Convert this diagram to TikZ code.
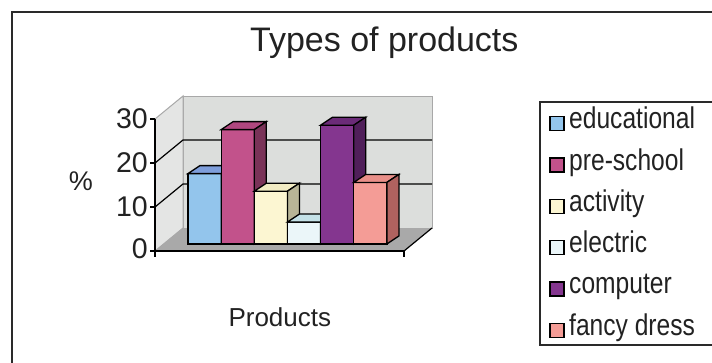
\documentclass[tikz,border=0pt]{standalone}
\usepackage{fontspec}
\setmainfont{Liberation Sans}
\newfontfamily\narrowfont{Liberation Sans}[FakeStretch=0.82]
\definecolor{eduF}{HTML}{93C5EC}
\definecolor{eduT}{HTML}{7E9EDB}
\definecolor{eduS}{HTML}{5C7FAE}
\definecolor{preF}{HTML}{C2528B}
\definecolor{preT}{HTML}{B0477F}
\definecolor{preS}{HTML}{7A3358}
\definecolor{actF}{HTML}{FCF6D2}
\definecolor{actT}{HTML}{F1EBC3}
\definecolor{actS}{HTML}{B8B597}
\definecolor{eleF}{HTML}{EBF6F9}
\definecolor{eleT}{HTML}{C4E1E7}
\definecolor{eleS}{HTML}{9FB6BA}
\definecolor{comF}{HTML}{84368F}
\definecolor{comT}{HTML}{6B2B78}
\definecolor{comS}{HTML}{501F5A}
\definecolor{fanF}{HTML}{F49C96}
\definecolor{fanT}{HTML}{E98F89}
\definecolor{fanS}{HTML}{B0625F}
\definecolor{wallB}{HTML}{DCDEDC}
\definecolor{wallL}{HTML}{E4E5E4}
\definecolor{floorC}{HTML}{A9A9A9}
\definecolor{edgeC}{HTML}{A8A8A8}
\definecolor{frameC}{HTML}{2A2A2A}
\definecolor{textC}{HTML}{222222}
\tikzset{
  barline/.style={draw=black, line width=1.3pt, line join=miter},
  gridline/.style={draw=black, line width=1.2pt},
  axisline/.style={draw=black, line width=1.2pt},
  wall/.style={draw=edgeC, line width=1pt},
  framel/.style={draw=frameC, line width=2.5pt},
  legl/.style={draw=frameC, line width=1.6pt},
  numlab/.style={anchor=east, inner sep=0pt, text=textC, font=\fontsize{28.5}{30}\selectfont},
  legtext/.style={anchor=base west, inner sep=0pt, text=textC, font=\narrowfont\fontsize{30}{32}\selectfont},
  legsq/.style={draw=black, line width=1.2pt},
}
\begin{document}
\begin{tikzpicture}[x=1pt,y=-1pt]
\useasboundingbox[fill=white] (0,0) rectangle (712,362);
% outer frame
\draw[framel] (12,372) -- (12,12) -- (722,12);
% title
\node[anchor=base, inner sep=0pt, text=textC, font=\fontsize{34}{36}\selectfont] (title) at (384.3,51.5) {Types of products};
% walls
\draw[wall, fill=wallB] (183,96) rectangle (432,228);
\draw[wall, fill=wallL] (155,251) -- (183,228) -- (183,96) -- (155,119) -- cycle;
% floor
\fill[floorC] (155,251) -- (404,251) -- (432,228) -- (183,228) -- cycle;
\draw[axisline] (404,251) -- (432,228);
% gridlines
\draw[gridline] (155,207) -- (183,184) -- (432,184);
\draw[gridline] (155,163) -- (183,140) -- (432,140);
% axes
\draw[axisline] (155,119) -- (155,257);
\draw[axisline] (155,251) -- (404,251) -- (404,257);
\foreach \yy in {119,163,207,251} { \draw[axisline] (150,\yy) -- (155,\yy); }
% bars
\foreach \i/\t/\f/\tp/\s in {0/173.6/eduF/eduT/eduS, 1/129.6/preF/preT/preS, 2/191.2/actF/actT/actS, 3/222/eleF/eleT/eleS, 4/125.2/comF/comT/comS, 5/182.4/fanF/fanT/fanS} {
  \pgfmathsetmacro\xl{188+33.15*\i}
  \pgfmathsetmacro\xr{\xl+33.15}
  \draw[barline, fill=\f] (\xl,\t) rectangle (\xr,244);
  \draw[barline, fill=\tp] (\xl,\t) -- (\xl+12,\t-8) -- (\xr+12,\t-8) -- (\xr,\t) -- cycle;
  \draw[barline, fill=\s] (\xr,\t) -- (\xr+12,\t-8) -- (\xr+12,236) -- (\xr,244) -- cycle;
}
% axis labels
\node[numlab] (l30) at (148,119) {30};
\node[numlab] (l20) at (148,163) {20};
\node[numlab] (l10) at (148,207) {10};
\node[numlab] (l0) at (148,249) {0};
\node[inner sep=0pt, text=textC, font=\fontsize{27}{29}\selectfont] (pct) at (81,181) {\%};
\node[anchor=base west, inner sep=0pt, text=textC, font=\fontsize{26}{28}\selectfont] (xlab) at (228.3,326) {Products};
% legend
\draw[legl] (722,102) -- (540,102) -- (540,345) -- (722,345);
\foreach \i/\c/\txt in {0/eduF/educational, 1/preF/pre-school, 2/actF/activity, 3/eleF/electric, 4/comF/computer, 5/fanF/fancy dress} {
  \pgfmathsetmacro\yt{116.7+41.3*\i}
  \draw[legsq, fill=\c] (550,\yt) rectangle (564,\yt+14);
  \node[legtext] (leg\i) at (569,\yt+12) {\txt};
}
\end{tikzpicture}
\end{document}
